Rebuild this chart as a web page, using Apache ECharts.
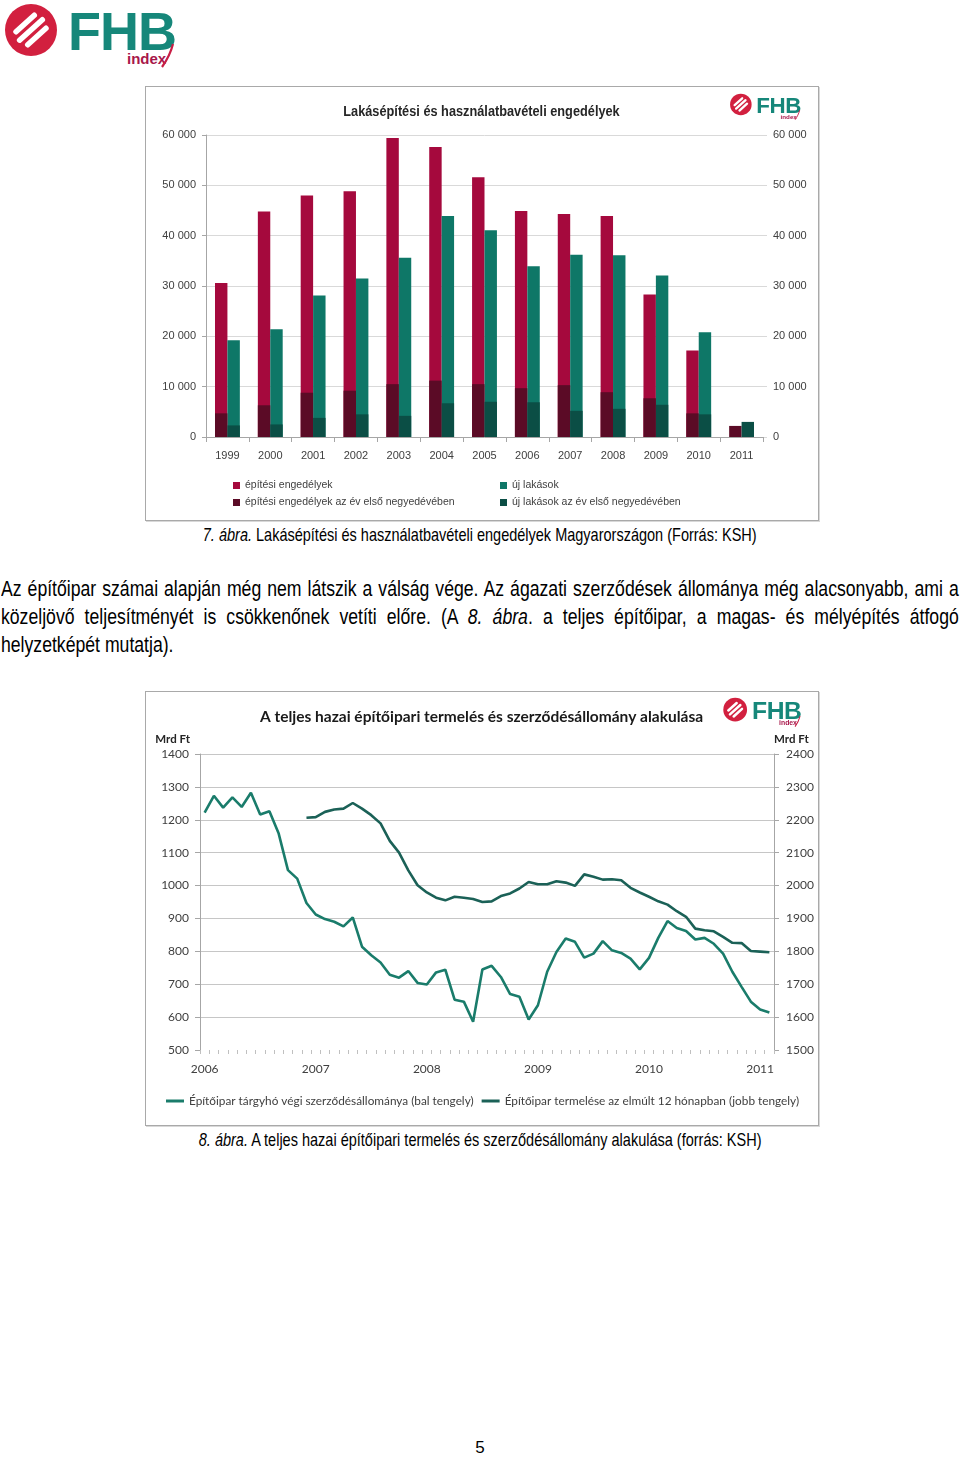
<!DOCTYPE html>
<html>
<head>
<meta charset="utf-8">
<script src="https://cdn.jsdelivr.net/npm/echarts@6/dist/echarts.min.js"></script>
<style>
  html,body{margin:0;padding:0;background:#fff;}
  body{width:960px;height:1459px;position:relative;overflow:hidden;font-family:'Liberation Sans',Arial,sans-serif;color:#000;}
  .abs{position:absolute;}
  .box{position:absolute;border:1px solid #a9a9a9;box-sizing:border-box;box-shadow:1px 1px 0 #d8d8d8;}
  .cap{position:absolute;left:0;width:960px;text-align:center;font-size:17.7px;line-height:20px;white-space:nowrap;}
  .cap span{display:inline-block;transform:scaleX(0.82);transform-origin:50% 50%;}
  .pl{position:absolute;left:1px;width:1168px;font-size:21.5px;line-height:28px;text-align:justify;text-align-last:justify;white-space:nowrap;transform:scaleX(0.82);transform-origin:0 0;}
  .pl.last{text-align:left;text-align-last:left;}
</style>
</head>
<body>
<div id="logoMain" class="abs" style="left:0;top:0;width:180px;height:70px;"></div>

<div class="box" style="left:145px;top:86px;width:674px;height:435px;"></div>
<div id="c1" class="abs" style="left:145px;top:86px;width:673px;height:434px;"></div>
<div id="logo1" class="abs" style="left:728px;top:92px;width:75px;height:29px;"></div>

<div class="cap" style="top:525px;"><span><i>7. ábra.</i> Lakásépítési és használatbavételi engedélyek Magyarországon (Forrás: KSH)</span></div>

<div class="pl" style="top:575px;">Az építőipar számai alapján még nem látszik a válság vége. Az ágazati szerződések állománya még alacsonyabb, ami a</div>
<div class="pl" style="top:603px;">közeljövő teljesítményét is csökkenőnek vetíti előre. (A <i>8. ábra</i>. a teljes építőipar, a magas- és mélyépítés átfogó</div>
<div class="pl last" style="top:631px;">helyzetképét mutatja).</div>

<div class="box" style="left:145px;top:691px;width:674px;height:435px;"></div>
<div id="c2" class="abs" style="left:145px;top:691px;width:673px;height:434px;"></div>
<div id="logo2" class="abs" style="left:721px;top:696px;width:83px;height:32px;"></div>

<div class="cap" style="top:1130px;"><span><i>8. ábra.</i> A teljes hazai építőipari termelés és szerződésállomány alakulása (forrás: KSH)</span></div>

<div class="cap" style="top:1438px;font-size:17px;">5</div>

<script>
// ---------- Chart 1 data ----------
const years = ['1999','2000','2001','2002','2003','2004','2005','2006','2007','2008','2009','2010','2011'];
const buildingPermits   = [30600, 44800, 48000, 48800, 59400, 57600, 51600, 44900, 44300, 43900, 28300, 17200, null];
const buildingPermitsQ1 = [4700, 6300, 8800, 9200, 10500, 11200, 10500, 9700, 10300, 8900, 7700, 4700, 2200];
const newDwellings      = [19200, 21400, 28100, 31500, 35600, 43900, 41100, 33900, 36200, 36100, 32100, 20800, null];
const newDwellingsQ1    = [2300, 2500, 3800, 4500, 4200, 6700, 7000, 6900, 5200, 5600, 6400, 4500, 3000];
const barTicks = [0, 10000, 20000, 30000, 40000, 50000, 60000];

// ---------- Chart 2 data ----------
const monthYears = ['2006','2007','2008','2009','2010','2011'];
const contractStock = [1222,1273,1237,1268,1239,1282,1216,1226,1158,1047,1021,947,
  912,898,890,876,903,814,788,766,729,720,740,704,
  699,736,744,653,647,586,745,756,722,670,662,593,
  636,738,798,839,829,781,793,831,803,795,778,745,
  780,841,892,871,862,836,841,823,793,738,692,647,
  623,614];
const production12m = [null,null,null,null,null,null,null,null,null,null,null,2206,
  2208,2224,2231,2234,2251,2234,2214,2189,2136,2100,2046,2001,
  1979,1963,1955,1966,1963,1959,1950,1952,1968,1976,1991,2011,
  2004,2004,2013,2009,1999,2034,2027,2018,2019,2016,1993,1979,
  1966,1952,1942,1922,1905,1869,1864,1861,1844,1826,1825,1801,
  1799,1797];
const leftTicks = [500,1400];
const rightTicks = [1500,2400];

// month categories (Jan 2006 .. Feb 2011)
const months = [];
monthYears.forEach(y => { for (let m = 1; m <= 12; m++) months.push(y + '.' + (m < 10 ? '0' + m : m)); });
months.length = contractStock.length;

// ---------- logo ----------
function logoSVG(){
  return '<svg viewBox="0 0 180 70" width="100%" height="100%" preserveAspectRatio="xMinYMin meet" xmlns="http://www.w3.org/2000/svg">'+
   '<circle cx="31" cy="30" r="26" fill="#D2203F"/>'+
   '<g transform="rotate(-42 31 30)" fill="#fff">'+
   '<rect x="16" y="18.5" width="30" height="5.5" rx="2.7"/>'+
   '<rect x="13" y="27.2" width="36" height="5.5" rx="2.7"/>'+
   '<rect x="16" y="36" width="30" height="5.5" rx="2.7"/></g>'+
   '<text x="68" y="50" font-family="Liberation Sans, Arial, sans-serif" font-weight="bold" font-size="54" fill="#16877A" letter-spacing="-1">FHB</text>'+
   '<text x="127" y="64" font-family="Liberation Sans, Arial, sans-serif" font-weight="bold" font-size="15" fill="#A8174A">index</text>'+
   '<path d="M162 67 C167 60 171 52 173 44" stroke="#C81E45" stroke-width="2.2" fill="none"/>'+
   '</svg>';
}
['logoMain','logo1','logo2'].forEach(id => document.getElementById(id).innerHTML = logoSVG());

const ARIAL = "'Liberation Sans',Arial,sans-serif";
const RED = '#A5093D', DRED = '#5B0B26', TEAL = '#0E7767', DTEAL = '#0B4E45';
const fmtK = v => String(v).replace(/\B(?=(\d{3})+(?!\d))/g, ' ');

const c1 = echarts.init(document.getElementById('c1'), null, {renderer:'canvas'});
const yBase = {
  type:'value', min: barTicks[0], max: barTicks[barTicks.length-1], interval: barTicks[1]-barTicks[0],
  axisLabel:{color:'#404040', fontSize:11, fontFamily:ARIAL, margin:10, formatter: fmtK},
};
const legText = {fontFamily:ARIAL, fontSize:10.5, color:'#404040'};
c1.setOption({
  animation:false,
  textStyle:{fontFamily:ARIAL},
  graphic:[{type:'text', left:'center', top:18, scaleX:0.85, originX:0,
    style:{text:'Lakásépítési és használatbavételi engedélyek', fontFamily:ARIAL, fontSize:15, fontWeight:'bold', fill:'#262626'}}],
  grid:{left:61, right:55, top:49, bottom:83},
  legend:[
    {data:['építési engedélyek','építési engedélyek az év első negyedévében'], orient:'vertical', left:88, top:394,
     icon:'rect', itemWidth:7, itemHeight:7, itemGap:6, padding:0, textStyle:legText},
    {data:['új lakások','új lakások az év első negyedévében'], orient:'vertical', left:355, top:394,
     icon:'rect', itemWidth:7, itemHeight:7, itemGap:6, padding:0, textStyle:legText}
  ],
  xAxis:[
    {type:'category', data:years, axisLine:{lineStyle:{color:'#a6a6a6'}},
     axisTick:{show:true, length:5, lineStyle:{color:'#a6a6a6'}},
     axisLabel:{color:'#404040', fontSize:11, fontFamily:ARIAL, margin:13}},
    {type:'category', data:years, show:false}
  ],
  yAxis:[
    Object.assign({}, yBase, {position:'left',
      axisLine:{show:true, lineStyle:{color:'#a6a6a6'}}, axisTick:{show:true, length:4, lineStyle:{color:'#a6a6a6'}},
      splitLine:{show:true, lineStyle:{color:'#d9d9d9'}}}),
    Object.assign({}, yBase, {position:'right',
      axisLine:{show:false}, axisTick:{show:true, length:4, lineStyle:{color:'#d9d9d9'}},
      splitLine:{show:false}})
  ],
  series:[
    {name:'építési engedélyek', type:'bar', xAxisIndex:0, yAxisIndex:0, data:buildingPermits,
     itemStyle:{color:RED}, barGap:'0%', barCategoryGap:'42%'},
    {name:'új lakások', type:'bar', xAxisIndex:0, yAxisIndex:0, data:newDwellings,
     itemStyle:{color:TEAL}, barGap:'0%', barCategoryGap:'42%'},
    {name:'építési engedélyek az év első negyedévében', type:'bar', xAxisIndex:1, yAxisIndex:0, data:buildingPermitsQ1,
     itemStyle:{color:DRED}, barGap:'0%', barCategoryGap:'42%'},
    {name:'új lakások az év első negyedévében', type:'bar', xAxisIndex:1, yAxisIndex:0, data:newDwellingsQ1,
     itemStyle:{color:DTEAL}, barGap:'0%', barCategoryGap:'42%'}
  ]
});

// ---------- Chart 2 ----------
const SANS = "Lato,'Open Sans','Liberation Sans',sans-serif";
const L1 = '#1A7C6B', L2 = '#1B6157';
const c2 = echarts.init(document.getElementById('c2'), null, {renderer:'canvas'});
const gridLine = {show:true, showMinLine:false, lineStyle:{color:'#c6c6c6'}};
const plain = v => String(v);
c2.setOption({
  animation:false,
  textStyle:{fontFamily:SANS},
  title:{text:'A teljes hazai építőipari termelés és szerződésállomány alakulása', left:'center', top:13,
    textStyle:{fontFamily:SANS, fontSize:15.5, fontWeight:'bold', color:'#1a1a1a'}},
  grid:{left:55, right:44, top:63, bottom:75},
  legend:{left:21, top:404, icon:'rect', itemWidth:18, itemHeight:3, itemGap:8, padding:0,
    data:['Építőipar tárgyhó végi szerződésállománya (bal tengely)','Építőipar termelése az elmúlt 12 hónapban (jobb tengely)'],
    textStyle:{fontFamily:SANS, fontSize:11.8, color:'#404040'}},
  xAxis:{type:'category', data:months, boundaryGap:true,
    axisLine:{show:false},
    axisTick:{show:true, interval:0, length:4, lineStyle:{color:'#c0c0c0'}},
    axisLabel:{interval:(i)=> i % 12 === 0, formatter:(v)=> v.slice(0,4), color:'#404040', fontSize:12, fontFamily:SANS, margin:13}},
  yAxis:[
    {type:'value', position:'left', min:leftTicks[0], max:leftTicks[1], interval:100,
     name:'Mrd Ft', nameLocation:'end', nameGap:9,
     nameTextStyle:{fontFamily:SANS, fontSize:11.5, fontWeight:'bold', color:'#262626', align:'right', padding:[0,10,0,0]},
     axisLine:{show:true, lineStyle:{color:'#a6a6a6'}}, axisTick:{show:true, length:5, lineStyle:{color:'#a6a6a6'}},
     axisLabel:{color:'#404040', fontSize:12, fontFamily:SANS, margin:11, formatter:plain},
     splitLine:gridLine},
    {type:'value', position:'right', min:rightTicks[0], max:rightTicks[1], interval:100,
     name:'Mrd Ft', nameLocation:'end', nameGap:9,
     nameTextStyle:{fontFamily:SANS, fontSize:11.5, fontWeight:'bold', color:'#262626', align:'left', padding:[0,0,0,0]},
     axisLine:{show:true, lineStyle:{color:'#a6a6a6'}}, axisTick:{show:true, length:5, lineStyle:{color:'#a6a6a6'}},
     axisLabel:{color:'#404040', fontSize:12, fontFamily:SANS, margin:12, formatter:plain},
     splitLine:{show:false}}
  ],
  series:[
    {name:'Építőipar tárgyhó végi szerződésállománya (bal tengely)', type:'line', yAxisIndex:0, data:contractStock,
     symbol:'none', lineStyle:{width:2.6, color:L1}, itemStyle:{color:L1}},
    {name:'Építőipar termelése az elmúlt 12 hónapban (jobb tengely)', type:'line', yAxisIndex:1, data:production12m,
     symbol:'none', connectNulls:false, lineStyle:{width:2.6, color:L2}, itemStyle:{color:L2}}
  ]
});
</script>
</body>
</html>
